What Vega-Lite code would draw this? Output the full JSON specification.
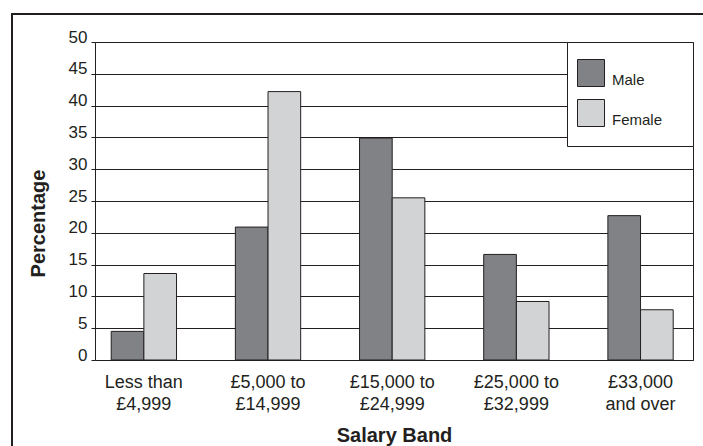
{
  "$schema": "https://vega.github.io/schema/vega-lite/v6.json",
  "width": 700,
  "height": 440,
  "autosize": {"type": "none"},
  "padding": {"left": 12, "top": 14, "right": 0, "bottom": 0},
  "background": "white",
  "data": {
    "values": [
      {"band": "Less than\n£4,999", "sex": "Male", "pct": 4.5},
      {"band": "Less than\n£4,999", "sex": "Female", "pct": 13.6},
      {"band": "£5,000 to\n£14,999", "sex": "Male", "pct": 20.9},
      {"band": "£5,000 to\n£14,999", "sex": "Female", "pct": 42.2},
      {"band": "£15,000 to\n£24,999", "sex": "Male", "pct": 34.9},
      {"band": "£15,000 to\n£24,999", "sex": "Female", "pct": 25.5},
      {"band": "£25,000 to\n£32,999", "sex": "Male", "pct": 16.6},
      {"band": "£25,000 to\n£32,999", "sex": "Female", "pct": 9.2},
      {"band": "£33,000\nand over", "sex": "Male", "pct": 22.7},
      {"band": "£33,000\nand over", "sex": "Female", "pct": 7.9}
    ]
  },
  "encoding": {
    "x": {
      "field": "band",
      "type": "nominal",
      "sort": null,
      "scale": {"range": [83, 681], "paddingInner": 0.474, "paddingOuter": 0.145, "align": 0.45},
      "axis": {
        "orient": "bottom",
        "offset": -94,
        "title": "Salary Band",
        "grid": false,
        "ticks": false,
        "tickSize": 0,
        "domainColor": "#231f20",
        "domainWidth": 1,
        "labelAngle": 0,
        "labelFontSize": 18,
        "labelColor": "#231f20",
        "labelPadding": 13.7,
        "labelLineHeight": 22,
        "labelLimit": 0,
        "labelExpr": "split(datum.label, '\\n')",
        "titleFontSize": 20,
        "titleFontWeight": "bold",
        "titleColor": "#231f20",
        "titleBaseline": "alphabetic",
        "titleY": 81
      }
    },
    "xOffset": {"field": "sex", "type": "nominal", "sort": ["Male", "Female"]}
  },
  "layer": [
    {
      "mark": {"type": "bar", "stroke": "#231f20", "strokeWidth": 1},
      "encoding": {
        "y": {
          "field": "pct",
          "type": "quantitative",
          "scale": {"domain": [0, 50], "range": [346, 28], "nice": false},
          "axis": {
            "orient": "left",
            "offset": -83,
            "values": [0, 5, 10, 15, 20, 25, 30, 35, 40, 45, 50],
            "title": "Percentage",
            "grid": true,
            "gridColor": "#231f20",
            "gridOpacity": 1,
            "gridWidth": 1,
            "domainColor": "#231f20",
            "tickColor": "#231f20",
            "tickSize": 4,
            "labelFontSize": 17,
            "labelPadding": 4,
            "labelOffset": -5,
            "labelColor": "#231f20",
            "titleFontSize": 20,
            "titleFontWeight": "bold",
            "titleColor": "#231f20",
            "titleAngle": -90,
            "titleAlign": "center",
            "titleBaseline": "middle",
            "titleX": -56.3,
            "titleY": 209
          }
        },
        "color": {
          "field": "sex",
          "type": "nominal",
          "sort": ["Male", "Female"],
          "scale": {"domain": ["Male", "Female"], "range": ["#808285", "#d1d3d4"]},
          "legend": {
            "orient": "none",
            "legendX": 555,
            "legendY": 28,
            "title": "Sex",
            "titleOrient": "right",
            "titleFontSize": 7,
            "titlePadding": 1,
            "titleOpacity": 0,
            "strokeColor": "#231f20",
            "fillColor": "white",
            "padding": 17,
            "symbolType": "square",
            "symbolSize": 729,
            "symbolOffset": -7,
            "symbolStrokeColor": "#231f20",
            "symbolStrokeWidth": 1,
            "symbolOpacity": 1,
            "rowPadding": 8,
            "labelFontSize": 15,
            "labelBaseline": "top",
            "labelOffset": 7,
            "labelColor": "#231f20"
          }
        }
      }
    },
    {
      "mark": {"type": "bar", "opacity": 0},
      "encoding": {
        "y": {
          "field": "pct",
          "type": "quantitative",
          "axis": {
            "orient": "right",
            "offset": -19,
            "title": null,
            "labels": false,
            "ticks": false,
            "grid": false,
            "domainColor": "#231f20"
          }
        }
      }
    }
  ],
  "resolve": {"axis": {"y": "independent"}},
  "config": {
    "font": "Liberation Sans",
    "view": {"stroke": "#231f20", "strokeWidth": 2}
  }
}
